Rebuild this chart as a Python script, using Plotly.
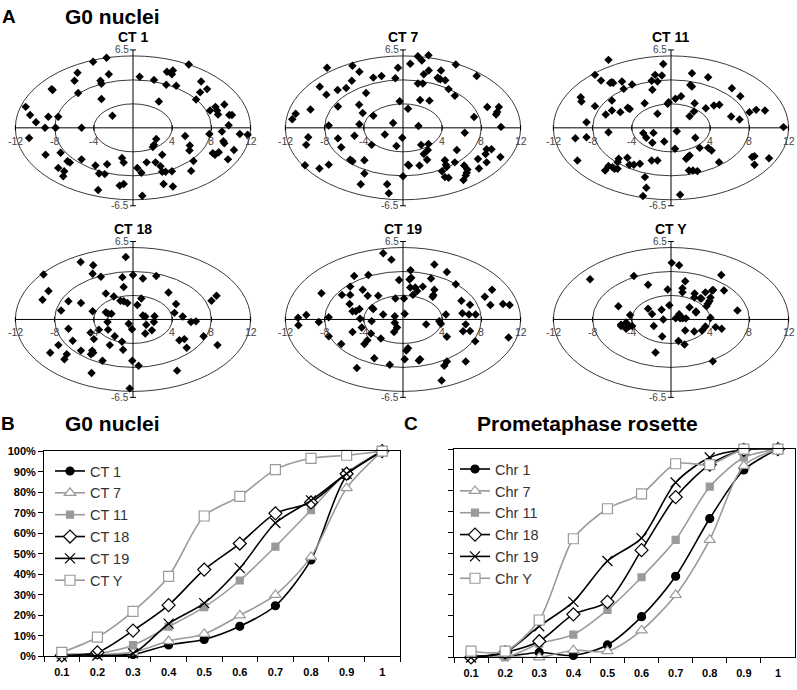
import plotly.graph_objects as go

# ---------------- DATA ----------------
panel_titles = ["CT 1", "CT 7", "CT 11", "CT 18", "CT 19", "CT Y"]

ct1_pts = [(-2.7,5.84),(-4.07,5.51),(5.69,5.29),(4.07,4.79),(3.46,4.68),(3.97,4.47),(-5.66,4.6),(-2.47,4.47),
 (-5.97,3.92),(-3.32,3.92),(-3.22,3.67),(0.68,4.27),(2.14,4.0),(3.39,3.59),(4.41,3.51),(6.95,3.86),(7.56,3.23),
 (6.85,2.96),(-8.3,3.23),(-8.2,3.15),(-5.6,2.9),(-3.22,2.41),(2.64,2.19),(6.44,2.36),(-10.95,1.75),(-10.5,1.07),
 (-9.9,0.47),(-8.64,0.93),(-7.63,0.93),(-2.1,1.01),(-8.98,0),(-7.9,0),(-5.25,0),(-10.6,-0.85),(7.86,1.45),
 (8.41,1.75),(8.58,1.45),(8.68,1.12),(9.32,1.95),(9.83,1.07),(10.1,1.07),(9.76,0.22),(9.08,-0.3),(7.8,-0.52),
 (10.9,-0.52),(11.7,-0.58),(9.22,-1.12),(9.32,-1.29),(10.3,-1.84),(8.14,-2.11),(8.37,-2.25),(8.75,-2.03),
 (9.69,-2.63),(5.32,-0.68),(5.8,-1.48),(5.76,-1.89),(6.17,-2.77),(5.93,-3.59),(2.37,-0.93),(2.14,-1.42),
 (2.03,-1.59),(2.98,-2.25),(1.39,-2.88),(2.3,-2.88),(2.81,-3.21),(2.98,-3.67),(3.32,-3.67),(3.97,-3.62),
 (0.44,-3.34),(0.85,-3.75),(-1.12,-2.52),(-0.95,-2.9),(-2.64,-3.04),(-3.83,-3.15),(-3.46,-3.81),(-2.88,-3.86),
 (-5.25,-2.63),(-7.39,-2.08),(-6.68,-2.79),(-6.44,-2.9),(-7.63,-3.34),(-7.02,-3.62),(-7.12,-4.03),(-8.92,-2.25),
 (-1.36,-4.82),(-0.95,-4.68),(-3.56,-5.18),(0.95,-5.67),(3.12,-4.68),(4.07,-4.9)]

ct7_pts = [(1.52,5.97),(2.6,6.05),(0.74,5.34),(1.92,5.62),(5.39,5.29),(-7.75,5.01),(-5.16,5.18),(-0.51,5.01),
 (-4.45,4.68),(2.63,4.79),(3.88,4.79),(2.12,4.47),(3.54,4.19),(3.81,4.05),(4.31,3.97),(3.61,4.11),(-3.03,4.19),
 (-2.19,4.33),(-0.78,4.14),(7.52,4.33),(1.52,3.7),(2.02,3.7),(-5.22,3.92),(-8.49,3.42),(-6.67,3.15),(-5.8,3.32),
 (-7.82,2.77),(-3.77,2.9),(4.65,3.23),(5.29,2.68),(1.75,2.33),(2.7,2.27),(-0.34,2.22),(-6.64,1.78),(-4.48,1.92),
 (-9.44,1.53),(-10.95,1.18),(-11.3,0.71),(-4.11,1.23),(-3.03,1.01),(0.51,1.59),(-1.01,0.41),(-4.45,0.3),
 (-7.58,0.19),(1.58,0.16),(8.6,1.73),(9.78,1.73),(9.61,1.32),(9.5,1.12),(7.25,0.9),(10.0,0.08),(-1.85,-0.55),
 (-0.07,-0.82),(6.3,-0.41),(-9.67,-0.79),(-9.88,-1.42),(-6.64,-0.88),(-4.95,-0.66),(-6.3,-1.62),(-3.2,-1.42),
 (-0.67,-1.51),(-5.39,-2.66),(-5.16,-2.79),(-3.94,-2.71),(-7.58,-3.07),(-10.0,-3.12),(-8.53,-3.4),(-3.94,-3.81),
 (-4.31,-4.71),(-1.62,-4.71),(-1.45,-5.45),(0.0,-4.03),(0.51,-3.07),(0.61,-3.15),(1.85,-1.42),(2.6,-1.34),
 (2.53,-1.84),(2.12,-2.19),(2.46,-2.66),(1.69,-3.15),(3.98,-3.62),(4.28,-2.71),(4.38,-3.07),(4.45,-3.26),
 (4.28,-4.11),(4.65,-4.16),(5.49,-1.84),(5.29,-2.88),(6.24,-3.15),(6.57,-3.48),(6.5,-3.75),(6.4,-3.97),
 (6.17,-4.36),(7.65,-2.6),(7.75,-3.4),(8.43,-2.19),(8.53,-1.78),(9.03,-1.78),(8.53,-2.88),(9.94,-2.44)]

ct11_pts = [(-6.38,5.67),(-0.79,5.33),(-7.76,4.42),(-7.14,3.94),(-6.21,3.75),(-6.03,3.81),(-5.9,3.75),(-5.0,3.86),
 (-3.97,3.61),(-4.83,3.25),(-1.62,4.42),(-0.93,4.36),(-1.97,3.92),(-1.38,3.86),(-1.9,3.17),(2.14,4.56),(3.79,4.22),
 (1.97,3.58),(2.14,3.44),(6.21,3.31),(7.07,2.64),(-9.21,2.56),(-9.14,2.19),(-7.76,1.81),(-6.03,2.28),(-6.03,1.44),
 (-6.66,1.11),(-5.17,1.31),(-4.41,1.67),(-4.21,1.58),(-2.69,2.06),(-1.38,1.17),(-0.34,2.0),(-0.24,2.14),(0.45,2.42),
 (1.03,2.64),(2.41,2.06),(1.9,0.97),(2.34,1.36),(3.55,1.64),(4.38,1.86),(4.93,1.92),(6.14,0.94),(7.0,0.69),
 (8.0,1.31),(8.69,1.5),(9.59,1.44),(-8.62,0.47),(11.48,0.06),(-6.38,-0.36),(-9.76,-0.86),(-8.62,-0.78),
 (-2.83,-0.44),(-1.79,-0.42),(-2.52,-0.83),(-1.9,-1.25),(-0.69,-1.14),(0.59,-0.28),(0.41,-1.75),(2.48,-0.83),
 (2.93,-1.67),(3.79,-1.67),(4.14,-1.89),(-9.55,-2.72),(-6.72,-3.56),(-6.38,-3.19),(-5.97,-3.28),(-5.76,-3.42),
 (-5.45,-3.42),(-5.34,-2.58),(-5.45,-2.86),(-4.45,-2.5),(-4.24,-3.08),(-3.79,-3.08),(-3.17,-3.0),(-1.97,-2.72),
 (-1.38,-2.72),(1.72,-2.44),(1.9,-2.31),(1.55,-2.58),(1.83,-3.56),(2.24,-3.56),(2.69,-3.61),(4.9,-2.86),
 (8.28,-2.44),(8.52,-2.36),(8.52,-3.08),(10.0,-2.53),(-2.66,-4.11),(-2.52,-5.0),(-2.86,-5.69),(0.93,-5.58)]

ct18_pts = [(-0.74,5.21),(-5.34,4.79),(-4.06,4.52),(-9.13,3.75),(-4.12,3.81),(-3.28,3.56),(-1.08,3.53),(0.0,3.7),
 (1.01,3.42),(2.37,3.62),(-0.95,2.71),(-8.62,2.38),(-9.23,1.64),(-6.59,1.51),(-5.31,1.37),(-2.77,2.16),(-1.96,1.92),
 (-1.28,1.56),(-0.95,1.51),(-0.57,1.37),(0.85,1.75),(0.44,1.21),(3.62,2.25),(4.39,1.29),(4.23,0.55),(5.07,0.25),
 (5.92,-0.22),(6.42,-0.16),(8.01,1.56),(8.52,1.97),(-7.34,0.74),(-4.12,0.68),(-2.77,0.6),(-2.54,0.47),(-2.2,0.47),
 (1.01,0.33),(1.25,0.25),(2.2,0.27),(-2.6,-0.22),(-0.44,-0.36),(2.13,-0.22),(1.35,-0.44),(-3.48,-0.85),
 (-2.54,-0.85),(-0.1,-0.82),(1.93,-0.9),(1.25,-1.18),(-6.59,-0.77),(-4.33,-1.1),(-1.86,-1.4),(-3.99,-1.64),
 (-6.15,-1.78),(-7.61,-2.14),(-5.31,-2.6),(-4.16,-2.6),(-4.06,-2.77),(-4.29,-2.9),(-1.12,-1.86),(-2.37,-2.14),
 (-1.01,-2.52),(-8.45,-2.77),(-6.76,-2.9),(-7.0,-3.32),(-3.11,-3.45),(-0.07,-3.45),(0.57,-3.86),(-4.23,-4.47),
 (4.73,-1.73),(5.24,-1.64),(5.48,-2.36),(7.2,-1.4),(8.62,-2.14),(4.5,-4.27),(-0.34,-5.75)]

ct19_pts = [(-2.02,5.53),(-1.18,4.99),(0.77,4.11),(3.2,4.58),(4.48,3.95),(-4.98,3.62),(-3.54,3.7),(0.84,3.48),
 (0.67,3.34),(-0.4,3.29),(2.86,3.42),(5.39,2.93),(-8.32,2.19),(-6.23,2.05),(-5.39,2.74),(-5.39,2.05),(-4.11,2.47),
 (-3.6,1.97),(-2.53,1.97),(0.74,2.66),(1.25,2.66),(1.45,2.38),(2.02,2.74),(3.2,2.47),(3.1,2.03),(3.03,1.89),
 (1.01,2.05),(-0.77,1.75),(0.1,1.75),(9.09,2.47),(8.35,1.89),(5.96,1.56),(6.84,1.23),(8.92,1.21),(10.2,1.29),
 (10.88,1.21),(-5.45,1.29),(-5.15,0.68),(-4.81,0.68),(-4.44,0.88),(-3.13,0.96),(-3.03,0.88),(-2.02,0.41),
 (-0.84,0.27),(0.17,0.47),(4.38,0.41),(6.06,0.52),(6.73,0.41),(7.41,0.41),(-9.87,0.38),(-10.71,0.14),(-7.58,0.19),
 (-4.38,0.05),(-3.2,-0.14),(-8.59,-0.22),(-10.67,-0.49),(3.7,-0.14),(3.87,-0.36),(2.36,-0.41),(-0.84,-0.27),
 (-0.61,-0.68),(-0.91,-1.04),(-4.21,-0.68),(-3.27,-1.18),(-5.15,-1.04),(-7.58,-1.4),(-2.26,-1.59),(-3.64,-1.73),
 (-3.94,-2.05),(-6.3,-2.05),(4.48,-1.45),(6.13,-0.99),(6.84,-0.96),(6.4,-0.41),(7.37,-1.81),(10.77,-1.51),
 (0.51,-2.41),(0.34,-2.6),(-2.93,-3.23),(-1.35,-3.78),(0.17,-3.32),(1.62,-3.42),(1.75,-3.32),(4.48,-3.51),
 (4.21,-3.86),(6.4,-3.51),(-4.71,-4.05),(3.94,-5.1)]

cty_pts = [(0.07,4.72),(0.83,4.52),(-8.26,3.36),(-3.79,3.62),(5.13,3.71),(-2.34,2.9),(-0.34,2.49),(1.45,3.19),
 (1.17,2.61),(1.17,2.26),(2.41,2.17),(3.51,2.26),(4.2,2.41),(4.3,2.46),(5.41,2.41),(2.38,1.83),(3.0,1.77),
 (3.1,1.74),(4.03,1.83),(3.93,1.54),(3.75,1.3),(3.62,1.1),(-5.37,1.1),(-2.34,0.9),(-1.93,0.46),(-0.96,0.81),
 (-0.17,1.19),(1.89,1.01),(2.55,0.67),(2.55,0.58),(6.78,0.75),(0.83,0.43),(0.48,0.09),(0.93,0.09),(1.2,0.09),
 (1.52,0.09),(-0.79,0.0),(4.03,0.14),(-4.17,0.38),(-4.58,-0.26),(-4.24,-0.55),(-3.96,-0.55),(-5.1,-0.55),
 (-5.1,-0.43),(-4.58,-0.78),(-1.76,-0.55),(4.55,-0.64),(5.17,-0.78),(3.51,-0.58),(3.17,-0.93),(2.38,-1.01),
 (1.45,-0.93),(-0.9,-1.42),(0.76,-1.8),(1.38,-2.09),(-1.58,-2.75),(4.27,-3.48)]

ellipse_axes = [(12, 6), (8, 4), (4, 2)]
x_ticks = [-12, -8, -4, 4, 8, 12]
y_ticks = [6.5, -6.5]

fractions = ["0.1", "0.2", "0.3", "0.4", "0.5", "0.6", "0.7", "0.8", "0.9", "1"]
pct_ticks = [0, 10, 20, 30, 40, 50, 60, 70, 80, 90, 100]

g0_names = ["CT 1", "CT 7", "CT 11", "CT 18", "CT 19", "CT Y"]
g0_ct1 = [1, 1, 1, 5.6, 8.3, 14.7, 24.7, 47, 88, 100]
g0_ct7 = [0.5, 1, 2, 7.5, 11, 20, 30, 48.5, 82, 100]
g0_ct11 = [1, 1.5, 5.5, 14.5, 24, 37, 53.5, 71.3, 89.5, 100]
g0_ct18 = [0.5, 2, 12.6, 25, 42.3, 55, 69.7, 75, 89, 100]
g0_ct19 = [0, 0.5, 1.5, 16, 26, 43, 65, 76, 89, 100]
g0_cty = [2, 9.4, 22, 39, 68.4, 78, 91, 96.5, 98, 100]

pr_names = ["Chr 1", "Chr 7", "Chr 11", "Chr 18", "Chr 19", "Chr Y"]
pr_chr1 = [1, 0.5, 2.4, 1, 6, 19.6, 39, 66.7, 90, 100]
pr_chr7 = [0.5, 0.5, 0, 3.5, 3, 13, 30, 56.5, 92, 100]
pr_chr11 = [0.5, 0, 6.6, 11, 22.8, 38.5, 56.5, 82, 96, 100]
pr_chr18 = [0, 2.4, 7.8, 20.7, 26.7, 51.5, 77, 92.6, 99.7, 100]
pr_chr19 = [0, 2.5, 15, 26.7, 46.3, 57.3, 84, 96, 99.7, 100]
pr_chry = [3, 3, 18, 57, 71.4, 78.5, 93, 92.6, 100, 100]

# ---------------- LAYOUT ----------------
W, H = 797, 690
FONT = "Liberation Sans, Arial, sans-serif"
fig = go.Figure()
layout = {}
annotations = []
shapes = []

centers = [(133, 124), (403, 124), (671, 124), (133, 319), (403, 319), (671, 319)]
SX, SY = 9.8, 12.2
XR, YR = 12.8, 7.2
all_pts = [ct1_pts, ct7_pts, ct11_pts, ct18_pts, ct19_pts, cty_pts]

for i, (pts, title, (cx, cy)) in enumerate(zip(all_pts, panel_titles, centers)):
    n = i + 1
    xa = "x" if n == 1 else f"x{n}"
    ya = "y" if n == 1 else f"y{n}"
    xkey = "xaxis" if n == 1 else f"xaxis{n}"
    ykey = "yaxis" if n == 1 else f"yaxis{n}"
    layout[xkey] = dict(domain=[(cx - XR * SX) / W, (cx + XR * SX) / W], range=[-XR, XR],
                        visible=False, anchor=ya, fixedrange=True)
    layout[ykey] = dict(domain=[1 - (cy + YR * SY) / H, 1 - (cy - YR * SY) / H], range=[-YR, YR],
                        visible=False, anchor=xa, fixedrange=True)
    for a, b in ellipse_axes:
        shapes.append(dict(type="circle", xref=xa, yref=ya, x0=-a, x1=a, y0=-b, y1=b,
                           line=dict(color="#3a3a3a", width=1), layer="below"))
    shapes.append(dict(type="line", xref=xa, yref=ya, x0=x_ticks[0], x1=x_ticks[-1], y0=0, y1=0,
                       line=dict(color="black", width=1)))
    shapes.append(dict(type="line", xref=xa, yref=ya, x0=0, x1=0, y0=y_ticks[-1], y1=y_ticks[0],
                       line=dict(color="black", width=1)))
    for t in y_ticks:
        shapes.append(dict(type="line", xref=xa, yref=ya, x0=-0.3, x1=0.3, y0=t, y1=t,
                           line=dict(color="black", width=1)))
        annotations.append(dict(xref=xa, yref=ya, x=0, y=t, text=f"{t:g}", showarrow=False,
                                xanchor="right", yanchor="middle", xshift=-2,
                                font=dict(family=FONT, size=10, color="#444")))
    for t in x_ticks:
        shapes.append(dict(type="line", xref=xa, yref=ya, x0=t, x1=t, y0=-0.22, y1=0.22,
                           line=dict(color="black", width=1)))
        annotations.append(dict(xref=xa, yref=ya, x=t, y=0, text=f"{t:g}", showarrow=False,
                                xanchor="center", yanchor="middle", yshift=-13,
                                font=dict(family=FONT, size=10.5, color="#444")))
    annotations.append(dict(xref="paper", yref="paper", x=cx / W, y=1 - (cy - 92) / H,
                            text=f"<b>{title}</b>", showarrow=False, xanchor="center",
                            yanchor="middle", font=dict(family=FONT, size=14, color="black")))
    fig.add_trace(go.Scatter(x=[p[0] for p in pts], y=[p[1] for p in pts], mode="markers",
                             xaxis=xa, yaxis=ya, showlegend=False, hoverinfo="skip",
                             marker=dict(symbol="diamond", size=6.5, color="black")))

# ---------------- line charts ----------------
BLACK = "#000000"
GRAY = "#9a9a9a"
styles = [
    dict(color=BLACK, symbol="circle", fill=BLACK, size=8),
    dict(color=GRAY, symbol="triangle-up", fill="white", size=10),
    dict(color=GRAY, symbol="square", fill=GRAY, size=7),
    dict(color=BLACK, symbol="diamond", fill="white", size=10),
    dict(color=BLACK, symbol="x-thin", fill=BLACK, size=10),
    dict(color=GRAY, symbol="square", fill="white", size=10),
]

def add_lines(names, series, xa, ya, legend):
    for name, vals, st in zip(names, series, styles):
        fig.add_trace(go.Scatter(
            x=fractions, y=vals, mode="lines+markers", name=name, xaxis=xa, yaxis=ya,
            legend=legend, cliponaxis=False,
            line=dict(color=st["color"], width=1.6, shape="spline", smoothing=0.8),
            marker=dict(symbol=st["symbol"], size=st["size"], color=st["fill"],
                        line=dict(color=st["color"], width=1.2))))

add_lines(g0_names, [g0_ct1, g0_ct7, g0_ct11, g0_ct18, g0_ct19, g0_cty], "x7", "y7", "legend")
add_lines(pr_names, [pr_chr1, pr_chr7, pr_chr11, pr_chr18, pr_chr19, pr_chry], "x8", "y8", "legend2")

common_x = dict(type="category", range=[-0.5, 9.5], tickson="boundaries", ticks="outside", ticklen=5,
                tickcolor="black", showline=True, linecolor="black", linewidth=1, mirror=True,
                showgrid=False, zeroline=False, fixedrange=True, ticklabelstandoff=5,
                tickfont=dict(family=FONT, size=11, color="black", weight="bold"))
common_y = dict(range=[0, 100], tickvals=pct_ticks, ticks="outside", ticklen=5, tickcolor="black",
                showline=True, linecolor="black", linewidth=1, mirror=True, showgrid=False,
                zeroline=False, fixedrange=True,
                tickfont=dict(family=FONT, size=11, color="black", weight="bold"))

layout["xaxis7"] = dict(common_x, domain=[44 / W, 400 / W], anchor="y7")
layout["yaxis7"] = dict(common_y, domain=[1 - 662 / H, 1 - 453 / H], anchor="x7",
                        ticktext=[f"{v}%" for v in pct_ticks])
layout["xaxis8"] = dict(common_x, domain=[454 / W, 795 / W], anchor="y8")
layout["yaxis8"] = dict(common_y, domain=[1 - 663 / H, 1 - 451 / H], anchor="x8",
                        showticklabels=False)

legend_style = dict(bgcolor="rgba(0,0,0,0)", borderwidth=0, tracegroupgap=0, yanchor="top", xanchor="left",
                    font=dict(family=FONT, size=14.5, color="#333"), itemwidth=30)
layout["legend"] = dict(legend_style, x=50 / W, y=1 - 457 / H)
layout["legend2"] = dict(legend_style, x=455 / W, y=1 - 455 / H)

# panel labels
for txt, px, py, size in [("A", 9, 11, 19), ("B", 8, 425, 19), ("C", 411, 425, 19)]:
    annotations.append(dict(xref="paper", yref="paper", x=px / W, y=1 - py / H, text=f"<b>{txt}</b>",
                            showarrow=False, xanchor="center", yanchor="middle",
                            font=dict(family=FONT, size=size, color="black")))
for txt, px, py in [("G0 nuclei", 63, 11), ("G0 nuclei", 63, 425), ("Prometaphase rosette", 475, 425)]:
    annotations.append(dict(xref="paper", yref="paper", x=px / W, y=1 - py / H, text=f"<b>{txt}</b>",
                            showarrow=False, xanchor="left", yanchor="middle",
                            font=dict(family=FONT, size=21, color="black")))

fig.update_layout(width=W, height=H, margin=dict(l=0, r=0, t=0, b=0), paper_bgcolor="white",
                  plot_bgcolor="white", annotations=annotations, shapes=shapes, **layout)

fig.write_html("out.html", config={"displayModeBar": False},
               post_script="document.body.style.margin='0';document.body.style.overflow='hidden';")
